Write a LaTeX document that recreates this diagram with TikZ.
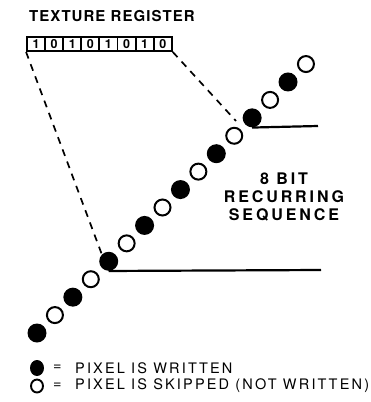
\documentclass[tikz,border=0pt]{standalone}
\usepackage{fontspec}
\setmainfont{TeX Gyre Heros}
\newfontfamily\titlefont[LetterSpace=7]{TeX Gyre Heros}
\newfontfamily\seqfont[LetterSpace=18]{TeX Gyre Heros}
\newfontfamily\legendfont[LetterSpace=15]{TeX Gyre Heros}
\usetikzlibrary{shapes.geometric}
\tikzset{
  dotfull/.style={circle,fill=black,inner sep=0pt,minimum size=19pt},
  dotopen/.style={circle,draw=black,line width=2pt,fill=white,inner sep=0pt,minimum size=16pt},
  cell/.style={draw=black,line width=1.9pt,minimum width=18.1pt,minimum height=14pt,inner sep=0pt,font=\bfseries\fontsize{12.5}{12.5}\selectfont},
  rule/.style={line width=2.2pt},
  guide/.style={line width=1.7pt,dash pattern=on 7pt off 6pt},
  label/.style={font=\titlefont\bfseries\fontsize{15}{16}\selectfont,inner sep=0pt},
  legtext/.style={font=\legendfont\fontsize{14.5}{15}\selectfont,anchor=west,inner sep=0pt},
}
\begin{document}
\begin{tikzpicture}[x=1pt,y=-1pt]
\useasboundingbox (0,0) rectangle (371,402);
% title
\node[label,anchor=west] (title) at (29,16) {TEXTURE REGISTER};
% register cells
\foreach \i/\b in {1/1,2/0,3/1,4/0,5/1,6/0,7/1,8/0}{
  \node[cell] (c\i) at ({27+18.1*(\i-0.5)},44) {\b};
}
% pixel dots
\foreach \i in {0,...,15}{
  \pgfmathsetmacro{\px}{37+17.93*\i}
  \pgfmathsetmacro{\py}{333-17.93*\i}
  \ifodd\i
    \node[dotopen] (d\i) at (\px,\py) {};
  \else
    \node[dotfull] (d\i) at (\px,\py) {};
  \fi
}
% horizontal rules
\coordinate (upEnd) at (318,126);
\coordinate (lowEnd) at (321,270);
\draw[rule] (d12.south) -- (upEnd);
\draw[rule] (d4.south) -- (lowEnd);
% dashed guides
\coordinate (rEnd) at (236,121);
\draw[guide] (c1.south west) -- (d4.north west);
\draw[guide] (c8.south east) -- (rEnd);
% sequence label
\node[inner sep=0pt,font=\seqfont\bfseries\fontsize{16}{18}\selectfont,align=center] (seq) at (284,197) {8 BIT\\RECURRING\\SEQUENCE};
% legend
\node[ellipse,fill=black,inner sep=0pt,minimum width=14pt,minimum height=16pt] (lf) at (37,368) {};
\node[ellipse,draw=black,line width=1.9pt,inner sep=0pt,minimum width=12pt,minimum height=13pt] (lo) at (37,386) {};
\node[legtext] (e1) at (53,368) {=};
\node[legtext] (e2) at (53,386) {=};
\node[legtext] (l1) at (75,368) {PIXEL IS WRITTEN};
\node[legtext] (l2) at (75,386) {PIXEL IS SKIPPED (NOT WRITTEN)};
\end{tikzpicture}
\end{document}
